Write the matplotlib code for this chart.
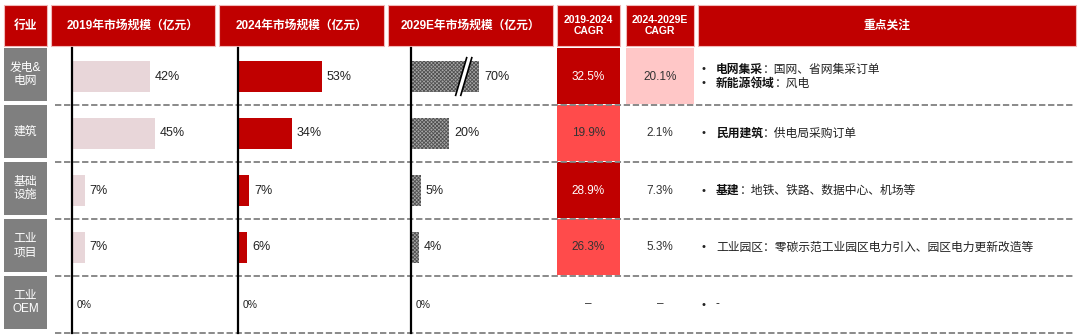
import matplotlib.pyplot as plt
from matplotlib.patches import Rectangle, Polygon

plt.rcParams['font.family'] = ['Liberation Sans', 'Noto Sans CJK SC', 'DejaVu Sans']
plt.rcParams['hatch.linewidth'] = 0.6

# data
industries = ['发电&\n电网', '建筑', '基础\n设施', '工业\n项目', '工业\nOEM']
share_2019 = [42, 45, 7, 7, 0]
share_2024 = [53, 34, 7, 6, 0]
share_2029 = [70, 20, 5, 4, 0]
cagr_19_24 = [32.5, 19.9, 28.9, 26.3, None]
cagr_24_29 = [20.1, 2.1, 7.3, 5.3, None]
focus = [
    [('电网集采', '：国网、省网集采订单'), ('新能源领域', '：风电')],
    [('民用建筑', '：供电局采购订单')],
    [('基建', '：地铁、铁路、数据中心、机场等')],
    [('', '工业园区：零碳示范工业园区电力引入、园区电力更新改造等')],
    [('', '-')],
]
headers = ['行业', '2019年市场规模（亿元）', '2024年市场规模（亿元）',
           '2029E年市场规模（亿元）', '2019-2024\nCAGR', '2024-2029E\nCAGR', '重点关注']

RED = '#C00000'
cagr1_fill = [RED, '#FF4B4B', RED, '#FF4B4B', None]
cagr2_fill = ['#FFC7C7', None, None, None, None]

W, H = 1080, 336
top, rh = 48, 57
n = len(industries)

fig = plt.figure(figsize=(10.8, 3.36), dpi=100)
ax = fig.add_axes([0, 0, 1, 1])
ax.set_xlim(0, W)
ax.set_ylim(H, 0)
ax.axis('off')

# header
cols = [(4, 47), (51, 215), (219, 384), (388, 553), (557, 620), (626, 694), (698, 1076)]
for (x0, x1), h in zip(cols, headers):
    ax.add_patch(Rectangle((x0, 5), x1 - x0, 41, fc=RED, ec='#F2B8B8', lw=0.8))
    fs = 7.5 if 'CAGR' in h else 8.5
    ax.text((x0 + x1) / 2, 25.5, h, color='white', fontsize=fs, fontweight='bold',
            ha='center', va='center', linespacing=1.1)

# row labels
for i, name in enumerate(industries):
    y0 = top + rh * i
    ax.add_patch(Rectangle((4, y0), 43, rh - 4, fc='#7F7F7F', ec='none'))
    ax.text(25.5, y0 + (rh - 4) / 2, name, color='white', fontsize=8.5,
            ha='center', va='center', linespacing=1.2)

# CAGR cells
for (x0, x1), vals, fills in [(cols[4], cagr_19_24, cagr1_fill), (cols[5], cagr_24_29, cagr2_fill)]:
    for i, v in enumerate(vals):
        y0 = top + rh * i
        if fills[i]:
            ax.add_patch(Rectangle((x0, y0), x1 - x0, rh - 1, fc=fills[i], ec='none'))
        txt = '–' if v is None else f'{v:.1f}%'
        c = 'white' if fills[i] == RED else '#333333'
        ax.text((x0 + x1) / 2, y0 + rh / 2, txt, color=c, fontsize=8.5,
                ha='center', va='center')

# focus column
for i, items in enumerate(focus):
    yc = top + rh * i + rh / 2
    ys = [yc - 7, yc + 7] if len(items) == 2 else [yc]
    for (key, rest), y in zip(items, ys):
        ax.text(702, y, '•', fontsize=8, va='center', color='#222222')
        if key:
            t = ax.text(716, y, key, fontsize=8.5, fontweight='bold', va='center', color='#111111')
            ax.annotate(rest, xy=(1, 0.5), xycoords=t, va='center', ha='left',
                        fontsize=8.5, color='#222222')
        else:
            ax.text(716, y, rest, fontsize=8.5, va='center', color='#222222')

# dashed separators
for k in range(1, n + 1):
    y = top + rh * k
    ax.plot([55, 1075], [y, y], color='#808080', lw=1.3, ls=(0, (3.5, 1.5)))


def bar_axes(x0, x1, scale):
    axb = fig.add_axes([x0 / W, 1 - (top + n * rh) / H, (x1 - x0) / W, n * rh / H])
    axb.set_xlim(0, (x1 - x0) / scale)
    axb.set_ylim(n - 0.5, -0.5)
    axb.patch.set_visible(False)
    for s in ['top', 'right', 'bottom']:
        axb.spines[s].set_visible(False)
    axb.spines['left'].set_linewidth(1.6)
    axb.set_xticks([])
    axb.set_yticks([])
    return axb


def labels(axb, vals, disp):
    for i, (v, d) in enumerate(zip(vals, disp)):
        axb.annotate(f'{v}%', xy=(d, i), xytext=(3.5, 0), textcoords='offset points',
                     va='center', ha='left', fontsize=9 if v else 7.5,
                     color='#222222', annotation_clip=False)


ypos = list(range(n))

ax19 = bar_axes(72, 215, 1.85)
ax19.barh(ypos, share_2019, height=0.53, color='#E8D6D9')
labels(ax19, share_2019, share_2019)

ax24 = bar_axes(238, 384, 1.58)
ax24.barh(ypos, share_2024, height=0.53, color=RED)
labels(ax24, share_2024, share_2024)

cap = 36
disp_2029 = [min(v, cap) for v in share_2029]
ax29 = bar_axes(411, 553, 1.9)
ax29.barh(ypos, disp_2029, height=0.53, color='#A6A6A6', hatch='xxxxxxxxx',
          edgecolor='#505050', linewidth=0)
labels(ax29, share_2029, disp_2029)
for i, v in enumerate(share_2029):
    if v > cap:
        ax29.add_patch(Polygon([(23.5, i + 0.33), (29.3, i - 0.33), (32, i - 0.33), (26.2, i + 0.33)],
                               fc='white', ec='none', zorder=3))
        ax29.plot([23.5, 29.3], [i + 0.33, i - 0.33], color='black', lw=1.2, zorder=4)
        ax29.plot([26.2, 32], [i + 0.33, i - 0.33], color='black', lw=1.2, zorder=4)

fig.savefig('out.png', dpi=100)
